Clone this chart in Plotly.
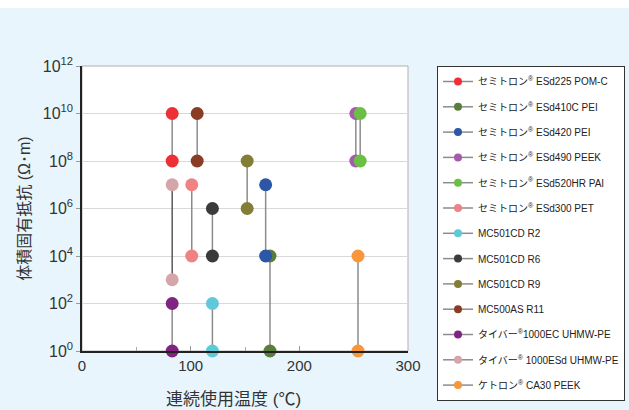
import plotly.graph_objects as go

names = [
    "セミトロン<sup>®</sup> ESd225 POM-C",
    "セミトロン<sup>®</sup> ESd410C PEI",
    "セミトロン<sup>®</sup> ESd420 PEI",
    "セミトロン<sup>®</sup> ESd490 PEEK",
    "セミトロン<sup>®</sup> ESd520HR PAI",
    "セミトロン<sup>®</sup> ESd300 PET",
    "MC501CD R2",
    "MC501CD R6",
    "MC501CD R9",
    "MC500AS R11",
    "タイバー<sup>®</sup>1000EC UHMW-PE",
    "タイバー<sup>®</sup> 1000ESd UHMW-PE",
    "ケトロン<sup>®</sup> CA30 PEEK",
]
temps = [83, 173, 169, 252, 256, 101, 120, 120, 152, 106, 83, 83, 254]
low = [1e8, 1e0, 1e4, 1e8, 1e8, 1e4, 1e0, 1e4, 1e6, 1e8, 1e0, 1e3, 1e0]
high = [1e10, 1e4, 1e7, 1e10, 1e10, 1e7, 1e2, 1e6, 1e8, 1e10, 1e2, 1e7, 1e4]
colors = ["#ee3036", "#5a7d3c", "#2c56a6", "#a55aab", "#6cbf45", "#f08283",
          "#5fc9d7", "#3b3b3b", "#837e35", "#8a3d25", "#7f2581", "#d5a6a9", "#f7963a"]
line_colors = ["#8c8c8c"] * 11 + ["#5a5a5a", "#8c8c8c"]

yticks = [10 ** k for k in range(0, 13, 2)]
ytext = ["10<sup>%d</sup>" % k for k in range(0, 13, 2)]
xticks = [0, 100, 200, 300]

font = "Arial, 'Liberation Sans', 'Noto Sans CJK JP', sans-serif"
fig = go.Figure()

for i, n in enumerate(names):
    fig.add_trace(go.Scatter(
        x=[temps[i], temps[i]], y=[low[i], high[i]], mode="lines+markers",
        line=dict(color=line_colors[i], width=1.5),
        marker=dict(color=colors[i], size=13),
        showlegend=False, cliponaxis=False, hoverinfo="skip"))

for i, n in enumerate(names):
    fig.add_trace(go.Scatter(
        x=[None], y=[None], mode="lines+markers", name=n, legendgroup="g%d" % i,
        line=dict(color="#8c8c8c", width=1.5),
        marker=dict(color=colors[i], size=8)))

fig.add_shape(type="rect", xref="paper", yref="paper", x0=0, x1=1, y0=0, y1=1,
              line=dict(color="#b0b0b0", width=1), layer="below")
fig.add_shape(type="rect", xref="paper", yref="paper", x0=-0.3, x1=1.7,
              y0=1.2035, y1=1.25, line=dict(width=0), fillcolor="white", layer="below")

fig.add_annotation(text="連続使用温度 (℃)", xref="paper", yref="paper",
                   x=0.466, y=-0.168, xanchor="center", yanchor="middle",
                   showarrow=False, font=dict(size=17, color="#333333"))

fig.update_layout(
    width=629, height=410,
    margin=dict(l=82, r=221, t=66, b=59, autoexpand=False),
    paper_bgcolor="#e8f5fd", plot_bgcolor="white",
    font=dict(family=font, color="#333333"),
    legend=dict(x=1.089, y=1, xanchor="left", yanchor="top",
                bgcolor="white", bordercolor="#333333", borderwidth=1,
                font=dict(size=10, color="#222222"),
                traceorder="grouped", tracegroupgap=6.3,
                itemwidth=30),
    xaxis=dict(range=[0, 300], tickvals=xticks, ticks="inside", ticklen=5,
               tickcolor="#999999", showgrid=False, zeroline=False,
               showline=True, linecolor="#222222", linewidth=1.5,
               minor=dict(tickvals=[50, 150, 250], ticks="inside", ticklen=4, tickcolor="#aaaaaa"),
               tickfont=dict(size=15, color="#333333")),
    yaxis=dict(type="log", range=[0, 12], tickvals=yticks, ticktext=ytext,
               ticks="outside", ticklen=4, tickcolor="#999999",
               showgrid=True, gridcolor="#d9d9d9", gridwidth=1, zeroline=False,
               showline=True, linecolor="#222222", linewidth=1.5,
               tickfont=dict(size=16, color="#333333"),
               title=dict(text="体積固有抵抗 (Ω･m)", font=dict(size=16, color="#333333"), standoff=8)),
)
try:
    fig.update_layout(legend_maxheight=345)
except Exception:
    pass

fig.write_html("out.html", config={"displayModeBar": False},
               post_script="document.body.style.margin='0';document.body.style.overflow='hidden';")
